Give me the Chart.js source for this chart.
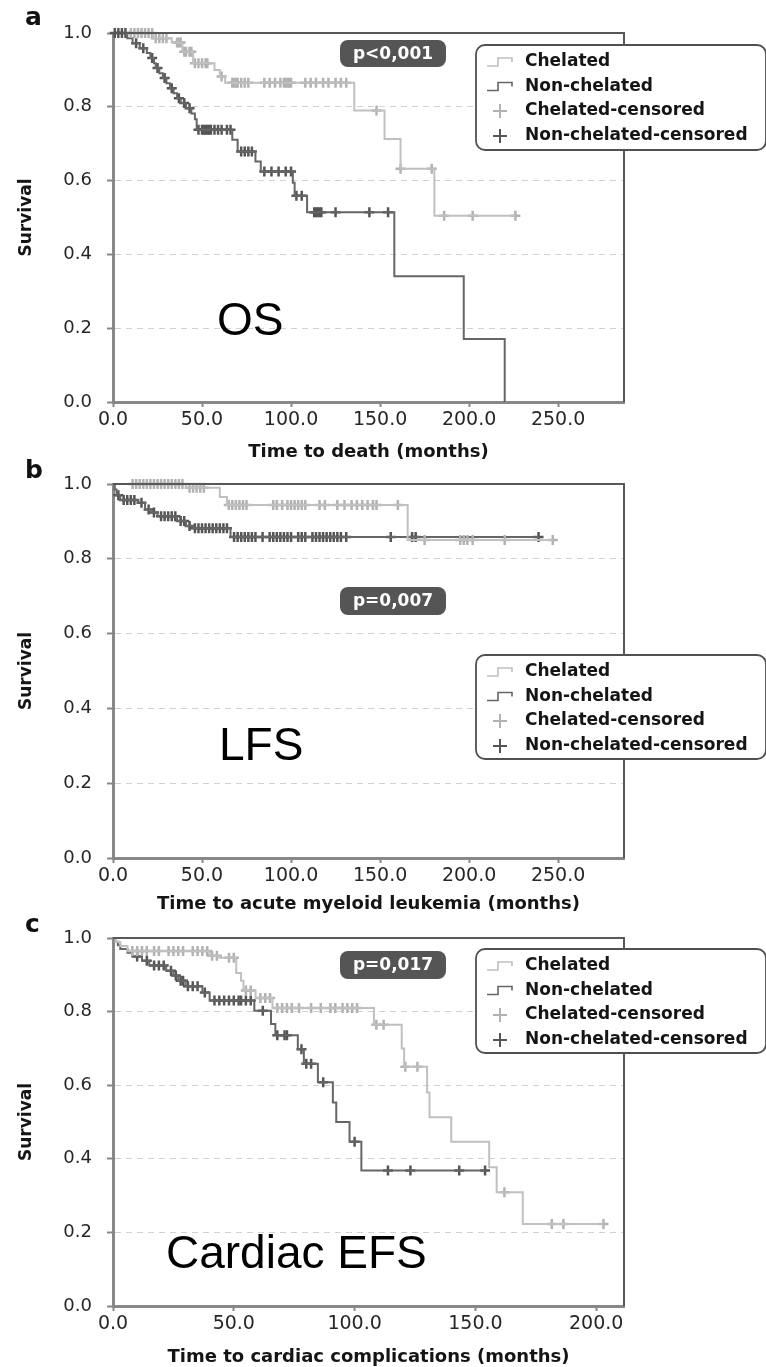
<!DOCTYPE html>
<html>
<head>
<meta charset="utf-8">
<script src="https://cdn.jsdelivr.net/npm/chart.js@4.4.1/dist/chart.umd.min.js"></script>
<style>
  html, body { margin: 0; padding: 0; background: #fff; }
  body { width: 766px; height: 1367px; position: relative; overflow: hidden; }
  .panel { position: absolute; left: 0; width: 766px; height: 465px; }
  .panel canvas { display: block; }
</style>
</head>
<body>
<div class="panel" style="top:0px"><canvas id="chartOS" width="766" height="465"></canvas></div>
<div class="panel" style="top:452px"><canvas id="chartLFS" width="766" height="465"></canvas></div>
<div class="panel" style="top:905px"><canvas id="chartCEFS" width="766" height="465"></canvas></div>
<script>
// ---------- Kaplan-Meier data (months, survival) ----------
// a: overall survival
const osChelTime   = [0, 22.7, 33, 39, 45, 57, 60, 63, 135.5, 152.5, 161.5, 180.5];
const osChelSurv   = [1, 0.986, 0.974, 0.949, 0.918, 0.9, 0.882, 0.865, 0.79, 0.713, 0.632, 0.505];
const osChelCens   = [10, 12, 14, 16, 18, 20, 22, 24, 26, 28, 30, 36, 37, 38, 40, 41, 43, 44, 46, 48, 50, 52, 53,
                      61, 67, 68, 69, 70, 72, 74, 76, 85, 88, 91, 94, 96, 97, 98, 99, 100, 108, 111, 114, 118,
                      121, 125, 128, 131, 148, 161.5, 179, 186, 202, 226];
const osNonTime    = [0, 8, 11, 15, 19, 21, 23, 24, 26, 28, 30, 32, 34, 36, 38, 41, 44, 46, 47, 67, 70, 80, 83,
                      101, 102, 109, 158, 197, 220];
const osNonSurv    = [1, 0.986, 0.972, 0.959, 0.946, 0.932, 0.918, 0.905, 0.891, 0.878, 0.864, 0.85, 0.837, 0.823,
                      0.81, 0.796, 0.782, 0.766, 0.738, 0.711, 0.679, 0.652, 0.625, 0.594, 0.559, 0.514, 0.341,
                      0.171, 0];
const osNonCens    = [1, 3, 5, 7, 13, 17, 22, 25, 29, 33, 37, 40, 43, 48, 50, 51, 52, 53, 54, 55, 57, 59, 61, 64,
                      66, 72, 74, 76, 78, 85, 89, 93, 97, 100, 103, 106, 113, 114, 115, 116, 117, 125, 144, 154.5];

// b: leukemia-free survival
const lfsChelTime  = [0, 41, 60, 64, 165.5];
const lfsChelSurv  = [1, 0.99, 0.965, 0.944, 0.85];
const lfsChelCens  = [11, 13, 15, 17, 19, 21, 23, 25, 27, 29, 31, 33, 35, 37, 39, 43, 45, 47, 49, 51, 65, 67, 69,
                      71, 73, 75, 90, 92, 95, 98, 100, 102, 104, 106, 108, 116, 119, 126, 130, 134, 137, 140, 143,
                      146, 148, 160, 175, 195, 197, 199, 202, 220, 247];
const lfsNonTime   = [0, 1, 2, 4, 14, 18, 21, 25, 36, 41, 45, 66];
const lfsNonSurv   = [1, 0.985, 0.97, 0.957, 0.95, 0.932, 0.924, 0.914, 0.901, 0.888, 0.882, 0.858];
const lfsNonCens   = [3, 6, 8, 10, 12, 16, 20, 23, 27, 29, 31, 33, 35, 38, 40, 43, 46, 48, 50, 52, 54, 56, 58, 60,
                      62, 64, 68, 70, 72, 74, 76, 78, 80, 84, 88, 90, 92, 94, 96, 98, 100, 104, 106, 108, 112, 114,
                      116, 118, 120, 122, 124, 126, 128, 131, 156, 168, 170, 239];

// c: cardiac event-free survival
const cefsChelTime = [0, 1, 3, 6, 40, 44, 51, 53, 54, 59, 66, 108, 119.5, 120.5, 130, 131, 140, 155.7, 158.8, 169.6];
const cefsChelSurv = [1, 0.989, 0.978, 0.965, 0.952, 0.946, 0.905, 0.884, 0.857, 0.837, 0.81, 0.764, 0.70, 0.65,
                      0.58, 0.513, 0.446, 0.377, 0.309, 0.223];
const cefsChelCens = [8, 10, 12, 14, 17, 19, 23, 25, 27, 29, 33, 35, 37, 39, 41, 43, 48, 50, 55, 57, 61, 63, 65,
                      68, 70, 72, 74, 77, 82, 86, 90, 92, 95, 97, 99, 101, 109, 112, 121, 126, 162, 181.6, 186.4, 203];
const cefsNonTime  = [0, 1, 2, 3, 6, 8, 12, 15, 22, 25, 27, 30, 37, 40, 58.5, 65.4, 67.2, 76.5, 79, 84.8, 91, 92.4,
                      97.9, 102.8];
const cefsNonSurv  = [1, 0.99, 0.98, 0.97, 0.96, 0.95, 0.938, 0.925, 0.911, 0.898, 0.884, 0.869, 0.852, 0.83, 0.802,
                      0.766, 0.736, 0.698, 0.658, 0.608, 0.553, 0.5, 0.446, 0.368];
const cefsNonCens  = [10, 14, 17, 19, 21, 24, 26, 28, 29, 31, 33, 35, 38, 42, 44, 46, 48, 50, 52, 53, 55, 57, 62,
                      68, 71, 72, 78, 80, 82, 87, 100, 113.8, 123.1, 143.3, 154];

// ---------- axis ticks and labels ----------
const xTicksLong  = [0, 50, 100, 150, 200, 250];
const xTicksShort = [0, 50, 100, 150, 200];
const yTicks      = [0, 0.2, 0.4, 0.6, 0.8, 1.0];
const legendLabels = ['Chelated', 'Non-chelated', 'Chelated-censored', 'Non-chelated-censored'];

// ---------- styling ----------
const LIGHT = '#c0c0c0';
const LIGHT_MARK = '#b2b2b2';
const DARK = '#666666';
const DARK_MARK = '#555555';
const AXIS = '#888888';
const FONT = '"DejaVu Sans", "Liberation Sans", sans-serif';

Chart.defaults.font.family = FONT;

function kmPoints(times, surv, cens) {
  const pts = times.map((t, i) => ({ x: t, y: surv[i] }));
  const lastCens = Math.max(...cens);
  if (lastCens > times[times.length - 1]) pts.push({ x: lastCens, y: surv[surv.length - 1] });
  return pts;
}
function survAt(times, surv, t) {
  let s = surv[0];
  for (let i = 0; i < times.length; i++) if (times[i] <= t) s = surv[i];
  return s;
}
function censorPoints(times, surv, cens) {
  return cens.map(t => ({ x: t, y: survAt(times, surv, t) }));
}

function roundRectPath(ctx, x, y, w, h, r) {
  ctx.beginPath();
  ctx.moveTo(x + r, y);
  ctx.lineTo(x + w - r, y);
  ctx.arcTo(x + w, y, x + w, y + r, r);
  ctx.lineTo(x + w, y + h - r);
  ctx.arcTo(x + w, y + h, x + w - r, y + h, r);
  ctx.lineTo(x + r, y + h);
  ctx.arcTo(x, y + h, x, y + h - r, r);
  ctx.lineTo(x, y + r);
  ctx.arcTo(x, y, x + r, y, r);
  ctx.closePath();
}

// Frame, panel letter, big label, p-value badge and legend box
const panelDecor = {
  id: 'panelDecor',
  afterDraw(chart, args, o) {
    const ctx = chart.ctx;
    const a = chart.chartArea;
    ctx.save();
    // top and right border of the plot box
    ctx.strokeStyle = '#585858';
    ctx.lineWidth = 2;
    ctx.beginPath();
    ctx.moveTo(a.left, a.top);
    ctx.lineTo(a.right, a.top);
    ctx.lineTo(a.right, a.bottom);
    ctx.stroke();

    // panel letter
    ctx.fillStyle = '#111';
    ctx.font = 'bold 25px ' + FONT;
    ctx.textAlign = 'left';
    ctx.textBaseline = 'alphabetic';
    ctx.fillText(o.letter, 25, o.letterY);

    // big endpoint label
    ctx.font = o.labelSize + 'px "Liberation Sans", Arial, sans-serif';
    ctx.fillStyle = '#000';
    ctx.fillText(o.label, o.labelX, o.labelY);

    // p-value badge
    const p = o.pbox;
    roundRectPath(ctx, p.x, p.y, p.w, p.h, 8);
    ctx.fillStyle = '#555555';
    ctx.fill();
    ctx.fillStyle = '#fff';
    ctx.font = 'bold 17px ' + FONT;
    ctx.textAlign = 'center';
    ctx.textBaseline = 'middle';
    ctx.fillText(o.pText, p.x + p.w / 2, p.y + p.h / 2 + 1);

    // legend box
    const L = o.legend;
    roundRectPath(ctx, L.x, L.y, L.w, L.h, 9);
    ctx.fillStyle = '#fff';
    ctx.fill();
    ctx.strokeStyle = '#505050';
    ctx.lineWidth = 1.8;
    ctx.stroke();
    const rows = [17, 41.5, 66, 91];
    const cols = [LIGHT, DARK, LIGHT_MARK, DARK_MARK];
    rows.forEach((dy, i) => {
      const cy = L.y + dy;
      const x0 = L.x + 11;
      ctx.strokeStyle = cols[i];
      ctx.lineWidth = 1.6;
      ctx.beginPath();
      if (i < 2) {
        ctx.moveTo(x0, cy + 4);
        ctx.lineTo(x0 + 11, cy + 4);
        ctx.lineTo(x0 + 11, cy - 4);
        ctx.lineTo(x0 + 25, cy - 4);
        ctx.lineTo(x0 + 25, cy);
      } else {
        ctx.lineWidth = 2;
        ctx.moveTo(x0 + 6, cy);
        ctx.lineTo(x0 + 20, cy);
        ctx.moveTo(x0 + 13, cy - 7);
        ctx.lineTo(x0 + 13, cy + 7);
      }
      ctx.stroke();
      ctx.fillStyle = '#151515';
      ctx.font = 'bold 17px ' + FONT;
      ctx.textAlign = 'left';
      ctx.textBaseline = 'middle';
      ctx.fillText(legendLabels[i], L.x + 49, cy);
    });
    ctx.restore();
  }
};

function makePanel(id, d) {
  const curveBase = { type: 'scatter', showLine: true, stepped: true, pointRadius: 0, borderWidth: 2, fill: false };
  const markBase = { type: 'scatter', showLine: false, pointStyle: 'cross', pointRadius: 5, pointBorderWidth: 2.5, clip: 10 };
  return new Chart(document.getElementById(id), {
    type: 'scatter',
    data: {
      datasets: [
        Object.assign({}, curveBase, { label: legendLabels[0], data: kmPoints(d.cT, d.cS, d.cC), borderColor: LIGHT }),
        Object.assign({}, markBase, { label: legendLabels[2], data: censorPoints(d.cT, d.cS, d.cC), borderColor: LIGHT_MARK, backgroundColor: LIGHT_MARK }),
        Object.assign({}, curveBase, { label: legendLabels[1], data: kmPoints(d.nT, d.nS, d.nC), borderColor: DARK }),
        Object.assign({}, markBase, { label: legendLabels[3], data: censorPoints(d.nT, d.nS, d.nC), borderColor: DARK_MARK, backgroundColor: DARK_MARK })
      ]
    },
    options: {
      responsive: false,
      animation: false,
      events: [],
      layout: { padding: { left: 0, right: 142, top: d.top, bottom: 0 } },
      plugins: {
        legend: { display: false },
        tooltip: { enabled: false },
        panelDecor: d.decor
      },
      scales: {
        x: {
          type: 'linear',
          min: 0,
          max: d.xMax,
          afterBuildTicks: s => { s.ticks = d.xTicks.map(v => ({ value: v })); },
          afterFit: s => { s.height = d.xAxisH; },
          ticks: { callback: v => Number(v).toFixed(1), color: '#262626', font: { size: 19 }, padding: 2, maxRotation: 0, autoSkip: false },
          grid: { drawOnChartArea: false, drawTicks: true, tickLength: 5, tickColor: AXIS, tickWidth: 2 },
          border: { color: AXIS, width: 3 },
          title: { display: true, text: d.xTitle, color: '#151515', font: { size: 18, weight: 'bold' }, padding: { top: 0, bottom: 2 } }
        },
        y: {
          type: 'linear',
          min: 0,
          max: 1,
          afterBuildTicks: s => { s.ticks = yTicks.map(v => ({ value: v })); },
          afterFit: s => { s.width = 113; },
          ticks: { callback: v => Number(v).toFixed(1), color: '#262626', font: { size: 18 }, padding: 15 },
          grid: {
            color: c => (c.tick && (c.tick.value === 0 || c.tick.value === 1)) ? 'rgba(0,0,0,0)' : '#d2d2d2',
            lineWidth: 1,
            drawTicks: true, tickLength: 6, tickColor: AXIS, tickWidth: 2
          },
          border: { color: AXIS, width: 3, dash: [6, 5] },
          title: { display: true, text: 'Survival', color: '#151515', font: { size: 17, weight: 'bold' }, padding: { top: 16, bottom: 0 } }
        }
      }
    },
    plugins: [panelDecor]
  });
}

makePanel('chartOS', {
  cT: osChelTime, cS: osChelSurv, cC: osChelCens,
  nT: osNonTime, nS: osNonSurv, nC: osNonCens,
  top: 33, xAxisH: 63, xMax: 287, xTicks: xTicksLong,
  xTitle: 'Time to death (months)',
  decor: { letter: 'a', letterY: 25, label: 'OS', labelSize: 46, labelX: 217, labelY: 335,
           pText: 'p<0,001', pbox: { x: 340, y: 40, w: 106, h: 27 },
           legend: { x: 476, y: 45, w: 290, h: 105 } }
});

makePanel('chartLFS', {
  cT: lfsChelTime, cS: lfsChelSurv, cC: lfsChelCens,
  nT: lfsNonTime, nS: lfsNonSurv, nC: lfsNonCens,
  top: 32, xAxisH: 59, xMax: 287, xTicks: xTicksLong,
  xTitle: 'Time to acute myeloid leukemia (months)',
  decor: { letter: 'b', letterY: 26, label: 'LFS', labelSize: 46, labelX: 219, labelY: 308,
           pText: 'p=0,007', pbox: { x: 340, y: 135, w: 106, h: 28 },
           legend: { x: 476, y: 203, w: 290, h: 104 } }
});

makePanel('chartCEFS', {
  cT: cefsChelTime, cS: cefsChelSurv, cC: cefsChelCens,
  nT: cefsNonTime, nS: cefsNonSurv, nC: cefsNonCens,
  top: 33, xAxisH: 64, xMax: 211.5, xTicks: xTicksShort,
  xTitle: 'Time to cardiac complications (months)',
  decor: { letter: 'c', letterY: 27, label: 'Cardiac EFS', labelSize: 46, labelX: 166, labelY: 363,
           pText: 'p=0,017', pbox: { x: 340, y: 46, w: 106, h: 28 },
           legend: { x: 476, y: 44, w: 290, h: 104 } }
});
</script>
</body>
</html>
